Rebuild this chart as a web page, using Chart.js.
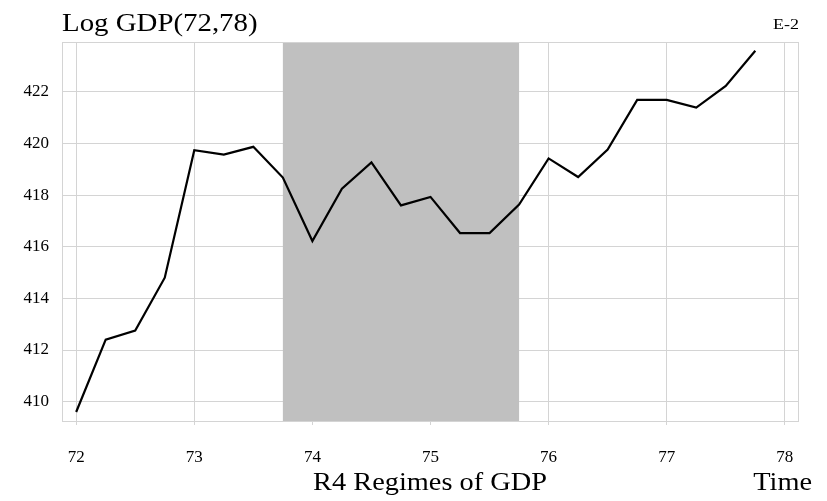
<!DOCTYPE html>
<html>
<head>
<meta charset="utf-8">
<script src="https://cdn.jsdelivr.net/npm/chart.js@4/dist/chart.umd.min.js"></script>
<style>
  html, body { margin: 0; padding: 0; background: #fff; }
  #wrap { width: 827px; height: 501px; }
</style>
</head>
<body>
<div id="wrap"><canvas id="chart" width="827" height="501"></canvas></div>
<script>
// quarterly time points and log GDP values
const times = [72, 72.25, 72.5, 72.75, 73, 73.25, 73.5, 73.75, 74, 74.25, 74.5, 74.75,
               75, 75.25, 75.5, 75.75, 76, 76.25, 76.5, 76.75, 77, 77.25, 77.5, 77.75];
const logGdp = [409.6, 412.4, 412.75, 414.8, 419.74, 419.57, 419.87, 418.68, 416.22, 418.25, 419.27, 417.6,
                417.93, 416.53, 416.53, 417.63, 419.42, 418.7, 419.76, 421.69, 421.69, 421.39, 422.23, 423.59];
// regime 4 window (shaded)
const regimeStart = [73.75];
const regimeEnd = [75.75];

const serif = "'Liberation Serif', 'DejaVu Serif', serif";
const gridColor = "#d4d4d4";

// text drawn a bit wider than the font, like the reference
function wideText(ctx, text, x, y, align, stretch) {
  ctx.save();
  ctx.translate(x, y);
  ctx.scale(stretch, 1);
  ctx.textAlign = align;
  ctx.fillText(text, 0, 0);
  ctx.restore();
}

const regimePlugin = {
  id: "regimes",
  beforeDatasetsDraw(chart) {
    const { ctx, chartArea, scales } = chart;
    ctx.save();
    ctx.fillStyle = "#c0c0c0";
    regimeStart.forEach((s, i) => {
      const x0 = scales.x.getPixelForValue(s);
      const x1 = scales.x.getPixelForValue(regimeEnd[i]);
      ctx.fillRect(x0, chartArea.top, x1 - x0, chartArea.bottom - chartArea.top);
    });
    // frame round the plot
    ctx.strokeStyle = gridColor;
    ctx.lineWidth = 1;
    ctx.strokeRect(chartArea.left + 0.5, chartArea.top + 0.5,
      chartArea.right - chartArea.left - 1, chartArea.bottom - chartArea.top);
    ctx.restore();
  },
  afterDraw(chart) {
    const { ctx, chartArea } = chart;
    ctx.save();
    ctx.fillStyle = "#000";
    ctx.textBaseline = "alphabetic";

    ctx.font = "26px " + serif;
    wideText(ctx, "Log GDP(72,78)", chartArea.left, 31, "left", 1.11);

    ctx.font = "15px " + serif;
    wideText(ctx, "E-2", chartArea.right, 29, "right", 1.2);

    ctx.font = "26px " + serif;
    wideText(ctx, "R4 Regimes of GDP", 430, 490, "center", 1.09);
    wideText(ctx, "Time", 812, 490, "right", 1.09);
    ctx.restore();
  }
};

const ctx = document.getElementById("chart").getContext("2d");
new Chart(ctx, {
  type: "line",
  data: {
    datasets: [{
      data: times.map((t, i) => ({ x: t, y: logGdp[i] })),
      borderColor: "#000",
      borderWidth: 2.2,
      pointRadius: 0,
      tension: 0,
      fill: false
    }]
  },
  options: {
    responsive: false,
    animation: false,
    layout: { padding: { left: 0, right: 28, top: 42, bottom: 0 } },
    plugins: { legend: { display: false }, tooltip: { enabled: false } },
    scales: {
      x: {
        type: "linear",
        min: 71.88,
        max: 78.12,
        afterFit(scale) { scale.height = 80; },
        border: { display: false },
        grid: { color: gridColor, tickLength: 4, tickColor: gridColor },
        ticks: {
          stepSize: 1,
          includeBounds: false,
          color: "#000",
          padding: 22,
          maxRotation: 0,
          font: { family: serif, size: 17 }
        }
      },
      y: {
        min: 409.25,
        max: 423.93,
        afterFit(scale) { scale.width = 62; },
        border: { display: false },
        grid: { color: gridColor, drawTicks: false },
        ticks: {
          stepSize: 2,
          includeBounds: false,
          color: "#000",
          padding: 13,
          font: { family: serif, size: 17 }
        }
      }
    }
  },
  plugins: [regimePlugin]
});
</script>
</body>
</html>
